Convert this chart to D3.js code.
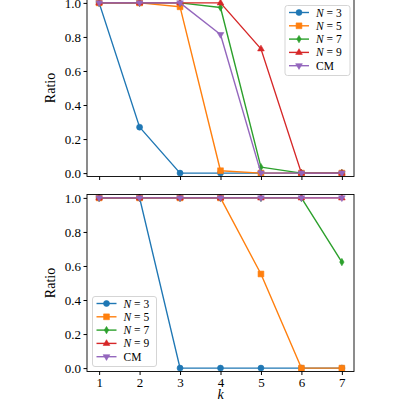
<!DOCTYPE html>
<html><head><meta charset="utf-8">
<script src="https://cdn.jsdelivr.net/npm/d3@7"></script>
<style>body{margin:0;background:#fff}svg{display:block}</style>
</head><body>
<svg id="c" width="400" height="400"></svg>
<script>
const ks = [1,2,3,4,5,6,7];
const seriesNames = ["N = 3","N = 5","N = 7","N = 9","CM"];
const colors = ["#1f77b4","#ff7f0e","#2ca02c","#d62728","#9467bd"];
const markers = ["circle","square","thin_diamond","triangle_up","triangle_down"];
// top panel
const topN3 = [1.0,0.27,0.0,0.0,0.0,0.0,0.0];
const topN5 = [1.0,1.0,0.977,0.014,0.0,0.0,0.0];
const topN7 = [1.0,1.0,1.0,0.973,0.035,0.0,0.0];
const topN9 = [1.0,1.0,1.0,1.0,0.73,0.0,0.0];
const topCM = [1.0,1.0,1.0,0.814,0.0,0.0,0.0];
// bottom panel
const botN3 = [1.0,1.0,0.0,0.0,0.0,0.0,0.0];
const botN5 = [1.0,1.0,1.0,1.0,0.553,0.0,0.0];
const botN7 = [1.0,1.0,1.0,1.0,1.0,1.0,0.623];
const botN9 = [1.0,1.0,1.0,1.0,1.0,1.0,1.0];
const botCM = [1.0,1.0,1.0,1.0,1.0,1.0,1.0];
const yTicks = [0.0,0.2,0.4,0.6,0.8,1.0];
const xTicks = [1,2,3,4,5,6,7];

const svg = d3.select("#c");
const FONT = "'Liberation Serif','DejaVu Serif',serif";

function markerPath(type, x, y){
  const g = d3.path();
  if(type==="circle"){ g.arc(x,y,3.0,0,2*Math.PI); }
  else if(type==="square"){ const s=2.9; g.rect(x-s,y-s,2*s,2*s); }
  else if(type==="thin_diamond"){ const h=3.7,w=2.2; g.moveTo(x,y-h); g.lineTo(x+w,y); g.lineTo(x,y+h); g.lineTo(x-w,y); g.closePath(); }
  else if(type==="triangle_up"){ const r=3.7; g.moveTo(x,y-r); g.lineTo(x+r*0.9,y+r*0.55); g.lineTo(x-r*0.9,y+r*0.55); g.closePath(); }
  else if(type==="triangle_down"){ const r=3.7; g.moveTo(x,y+r); g.lineTo(x+r*0.9,y-r*0.55); g.lineTo(x-r*0.9,y-r*0.55); g.closePath(); }
  return g.toString();
}

function panel(top, bottom, data, showX, legendPos){
  const x = d3.scaleLinear().domain([0.7,7.3]).range([87,354]);
  const y = d3.scaleLinear().domain([-0.02,1.02]).range([bottom,top]);
  const g = svg.append("g");
  const plot = g.append("g");
  const line = d3.line().x((d,i)=>x(ks[i])).y(d=>y(d));
  data.forEach((vals,si)=>{
    plot.append("path").attr("d",line(vals)).attr("fill","none")
      .attr("stroke",colors[si]).attr("stroke-width",1.4).attr("stroke-linejoin","round");
    vals.forEach((v,i)=>{
      plot.append("path").attr("d",markerPath(markers[si],x(ks[i]),y(v)))
        .attr("fill",colors[si]).attr("stroke",colors[si]).attr("stroke-width",0.6);
    });
  });
  // frame
  g.append("rect").attr("x",87).attr("y",top).attr("width",267).attr("height",bottom-top)
    .attr("fill","none").attr("stroke","#000").attr("stroke-width",0.9);
  // y axis
  const ya = d3.axisLeft(y).tickValues(yTicks).tickFormat(d3.format(".1f")).tickSize(3.5).tickPadding(2.5);
  const yg = g.append("g").attr("transform","translate(87,0)").call(ya);
  yg.select(".domain").remove();
  yg.selectAll("text").attr("font-family",FONT).attr("font-size",13).attr("fill","#000");
  // x axis
  const xa = d3.axisBottom(x).tickValues(xTicks).tickFormat(showX?d3.format("d"):()=>"").tickSize(3.5).tickPadding(2.5);
  const xg = g.append("g").attr("transform",`translate(0,${bottom})`).call(xa);
  xg.select(".domain").remove();
  xg.selectAll("text").attr("font-family",FONT).attr("font-size",13).attr("fill","#000");
  // y label
  g.append("text").attr("transform",`translate(55,${(y(1.02)+y(-0.02))/2}) rotate(-90)`)
    .attr("text-anchor","middle").attr("font-family",FONT).attr("font-size",14).text("Ratio");
  // legend
  const L = legendPos;
  const lg = g.append("g");
  lg.append("rect").attr("x",L.x).attr("y",L.y).attr("width",L.w).attr("height",L.h)
    .attr("rx",2.5).attr("fill","#fff").attr("fill-opacity",0.8).attr("stroke","#d0d0d0").attr("stroke-width",0.9);
  seriesNames.forEach((nm,si)=>{
    const cy = L.y + 7 + si*13.3;
    const x0 = L.x+4, x1 = L.x+24;
    lg.append("line").attr("x1",x0).attr("x2",x1).attr("y1",cy).attr("y2",cy)
      .attr("stroke",colors[si]).attr("stroke-width",1.4);
    lg.append("path").attr("d",markerPath(markers[si],(x0+x1)/2,cy))
      .attr("fill",colors[si]).attr("stroke",colors[si]).attr("stroke-width",0.6);
    const t = lg.append("text").attr("x",L.x+31).attr("y",cy+4).attr("font-family",FONT).attr("font-size",11.5);
    if(nm.startsWith("N")){
      t.append("tspan").attr("font-style","italic").text("N");
      t.append("tspan").text(nm.slice(1));
    } else t.text(nm);
  });
}

panel(-0.5, 176.5, [topN3,topN5,topN7,topN9,topCM], false, {x:285,y:5.5,w:65,h:70});
panel(194.5, 371.5, [botN3,botN5,botN7,botN9,botCM], true, {x:92.5,y:296.5,w:64,h:70});

svg.append("text").attr("x",220.5).attr("y",399).attr("text-anchor","middle")
  .attr("font-family",FONT).attr("font-size",14).attr("font-style","italic").text("k");
</script>
</body></html>
